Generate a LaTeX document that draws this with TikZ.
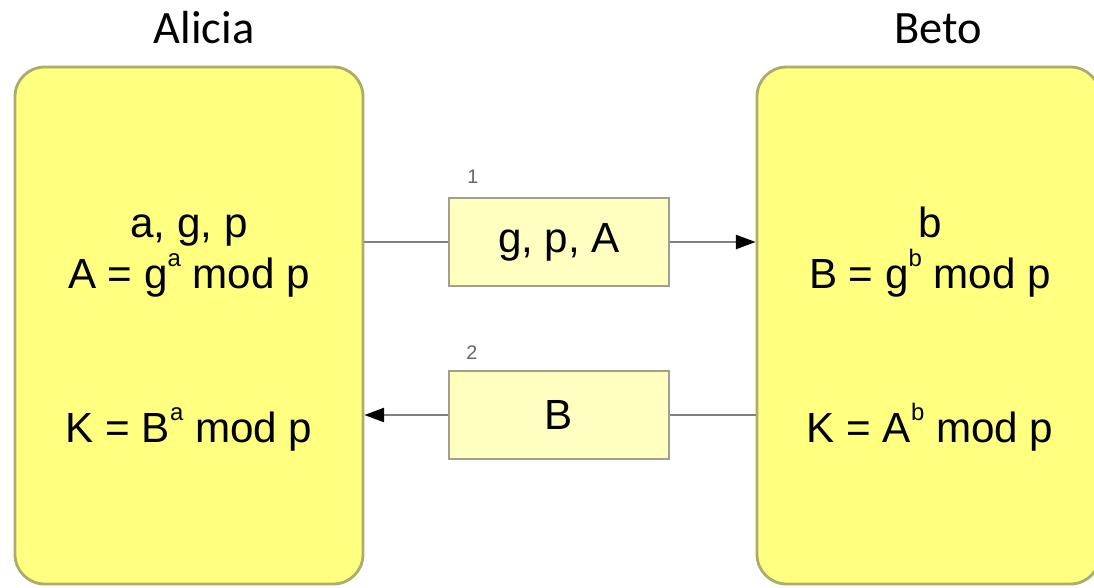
\documentclass[tikz,border=0pt]{standalone}
\usepackage{fontspec}
\setmainfont{Liberation Sans}
\newfontfamily\namefont{Carlito}
\definecolor{partyfill}{RGB}{255, 255, 128}
\definecolor{partyedge}{RGB}{172, 172, 108}
\definecolor{msgfill}{RGB}{255, 255, 192}
\definecolor{msgedge}{RGB}{160, 160, 140}
\definecolor{wire}{RGB}{128, 128, 128}
\usepackage{tikz}
\usetikzlibrary{arrows.meta, positioning, calc}
\newcommand{\expo}[1]{\raisebox{0.5em}{\fontsize{17}{17}\selectfont #1}}

\begin{document}
\begin{tikzpicture}[x=0.025cm, y=-0.025cm,
    party/.style={draw=partyedge, fill=partyfill, line width=2pt, rounded corners=21pt, minimum width=348*0.025cm, minimum height=517*0.025cm, inner sep=0pt},
    msgbox/.style={draw=msgedge, fill=msgfill, line width=1.4pt, minimum width=220*0.025cm, minimum height=88*0.025cm, inner sep=0pt, font=\fontsize{30}{36}\selectfont},
    formula/.style={anchor=base, inner sep=0pt, font=\fontsize{30}{36}\selectfont},
    wireline/.style={draw=wire, line width=1.6pt},
    sendtip/.style={-{Triangle[length=14pt, width=10pt, color=black]}}]
  \useasboundingbox (0,0) rectangle (1094,587);
  \clip (0,0) rectangle (1094,587);

  % Parties
  \node[party] (alicia) at (189, 325.5) {};
  \node[party, minimum width=343*0.025cm] (beto) at (928.5, 325.5) {};
  \node[anchor=base, inner sep=0pt, font=\namefont\fontsize{33}{40}\selectfont] (aliciaName) at (204, 43) {Alicia};
  \node[anchor=base, inner sep=0pt, font=\namefont\fontsize{33}{40}\selectfont] (betoName) at (938, 43) {Beto};

  % Alicia's side
  \node[formula] (aParams) at (189, 237) {a, g, p};
  \node[formula] (aPublic) at (189, 288) {A = g\expo{a} mod p};
  \node[formula] (aKey) at (189, 442) {K = B\expo{a} mod p};

  % Beto's side
  \node[formula] (bSecret) at (930, 237) {b};
  \node[formula] (bPublic) at (930, 288) {B = g\expo{b} mod p};
  \node[formula] (bKey) at (930, 442) {K = A\expo{b} mod p};

  % Messages
  \node[msgbox] (msgOne) at (559, 242) {g, p, A};
  \node[msgbox] (msgTwo) at (559, 415) {B};
  \node[font=\fontsize{14}{16}\selectfont, text=black!60, anchor=south west, inner sep=0pt] (stepOne) at (467, 184) {1};
  \node[font=\fontsize{14}{16}\selectfont, text=black!60, anchor=south west, inner sep=0pt] (stepTwo) at (466, 360) {2};

  \draw[wireline] (alicia.east |- msgOne.west) -- (msgOne.west);
  \draw[wireline, sendtip] (msgOne.east) -- (beto.west |- msgOne.east);
  \draw[wireline] (beto.west |- msgTwo.east) -- (msgTwo.east);
  \draw[wireline, sendtip] (msgTwo.west) -- (alicia.east |- msgTwo.west);
\end{tikzpicture}
\end{document}
